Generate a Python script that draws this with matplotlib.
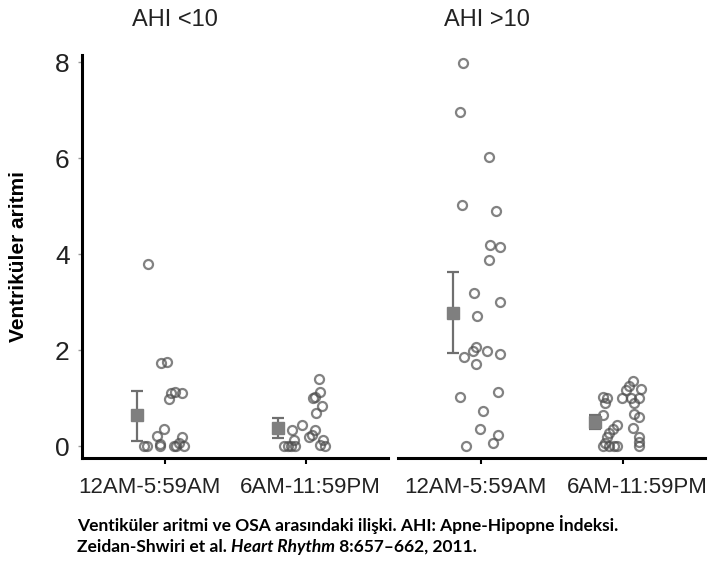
import matplotlib.pyplot as plt
from matplotlib.transforms import blended_transform_factory

# ---- data ----
PANELS = ["AHI <10", "AHI >10"]
GROUPS = ["12AM-5:59AM", "6AM-11:59PM"]

# jitter offsets (category units) and values for each point
l_night_x = [-0.12, -0.03, 0.01, 0.03, 0.04, 0.07, 0.12, -0.01, -0.06, 0.12, 0.10,
             -0.15, -0.13, -0.04, 0.06, 0.08, 0.13, -0.04]
l_night_y = [3.79, 1.73, 1.75, 0.98, 1.10, 1.12, 1.10, 0.35, 0.21, 0.19, 0.06,
             0.0, 0.0, 0.0, 0.0, 0.0, 0.0, 0.04]

l_day_x = [0.09, 0.10, 0.06, 0.05, 0.11, 0.07, -0.03, -0.10, 0.06, 0.04, 0.02, 0.12,
           0.10, 0.13, -0.16, -0.13, -0.11, -0.08, -0.09]
l_day_y = [1.40, 1.12, 1.02, 1.00, 0.83, 0.69, 0.44, 0.33, 0.33, 0.23, 0.19, 0.13,
           0.02, 0.0, 0.0, 0.0, 0.0, 0.0, 0.13]

r_night_x = [-0.13, -0.15, 0.05, -0.14, 0.10, 0.06, 0.13, 0.05, -0.05, 0.13, -0.03,
             -0.04, -0.06, 0.04, 0.13, -0.12, -0.04, -0.15, 0.12, 0.01, -0.01, 0.12,
             0.08, -0.11]
r_night_y = [7.98, 6.96, 6.02, 5.02, 4.90, 4.19, 4.15, 3.88, 3.19, 3.00, 2.71,
             2.06, 1.98, 1.98, 1.92, 1.85, 1.71, 1.02, 1.12, 0.73, 0.35, 0.23,
             0.06, 0.0]

r_day_x = [0.07, 0.04, 0.13, 0.02, -0.14, -0.11, -0.01, 0.06, 0.11, 0.08, -0.13,
           -0.14, 0.08, 0.11, -0.04, -0.07, 0.07, -0.10, -0.11, 0.11, 0.11, -0.13,
           -0.14, -0.10, -0.06, -0.04, 0.11]
r_day_y = [1.35, 1.25, 1.19, 1.17, 1.02, 1.00, 1.00, 1.00, 1.00, 0.90, 0.90,
           0.65, 0.67, 0.60, 0.44, 0.35, 0.38, 0.27, 0.19, 0.19, 0.08, 0.06,
           0.0, 0.0, 0.0, 0.0, 0.0]

# mean with error bar (low, high)
means = [[0.65, 0.375], [2.77, 0.50]]
err_lo = [[0.10, 0.17], [1.94, 0.35]]
err_hi = [[1.15, 0.58], [3.63, 0.65]]

points = [[(l_night_x, l_night_y), (l_day_x, l_day_y)],
          [(r_night_x, r_night_y), (r_day_x, r_day_y)]]

YTICKS = [0, 2, 4, 6, 8]
MEAN_OFFSET = -0.2

W, H = 710, 564
fig = plt.figure(figsize=(W / 100, H / 100), dpi=100)
plt.rcParams["font.family"] = ["Liberation Sans", "DejaVu Sans"]

axes_px = [(82, 388), (398, 705)]
bottom_px, top_px = 458, 55
title_px = [175, 487]
# label centres are a bit off the tick marks in the original
label_shift = [[-0.11, 0.03], [-0.04, 0.10]]

for p in range(2):
    x0, x1 = axes_px[p]
    ax = fig.add_axes([x0 / W, 1 - bottom_px / H, (x1 - x0) / W, (bottom_px - top_px) / H])
    for g in range(2):
        xs, ys = points[p][g]
        ax.plot([g + x for x in xs], ys, linestyle="none", marker="o", markersize=6.5,
                markerfacecolor="none", markeredgecolor=(0.3, 0.3, 0.3, 0.7),
                markeredgewidth=1.6, zorder=3)
        m = means[p][g]
        ax.errorbar([g + MEAN_OFFSET], [m],
                    yerr=[[m - err_lo[p][g]], [err_hi[p][g] - m]],
                    fmt="s", color="#7f7f7f", ecolor="#6f6f6f", markersize=8.5,
                    elinewidth=1.6, capsize=4, capthick=1.6, zorder=4)

    ax.set_xlim(-0.59, 1.58)
    ax.set_ylim(-0.25, 8.15)
    ax.set_xticks([0, 1])
    ax.set_xticklabels([])
    ax.tick_params(axis="x", length=4, width=1.5)
    trans = blended_transform_factory(ax.transData, ax.transAxes)
    for g in range(2):
        ax.text(g + label_shift[p][g], -0.072, GROUPS[g], transform=trans,
                ha="center", va="center", fontsize=16, color="#222222")
    for s in ["top", "right"]:
        ax.spines[s].set_visible(False)
    ax.spines["bottom"].set_linewidth(2.2)
    if p == 0:
        ax.spines["left"].set_linewidth(2.2)
        ax.set_yticks(YTICKS)
        ax.set_yticklabels([str(t) for t in YTICKS], fontsize=19, color="#222222")
        ax.tick_params(axis="y", length=3, width=1, color="#999999", pad=6)
        ax.set_ylabel("Ventriküler aritmi", fontsize=15, fontweight="bold")
        ax.yaxis.set_label_coords(-54 / (x1 - x0), 0.5)
    else:
        ax.spines["left"].set_visible(False)
        ax.set_yticks([])
    fig.text(title_px[p] / W, 1 - 20 / H, PANELS[p], ha="center", va="center",
             fontsize=17, color="#222222")

# caption
cap_font = ["Lato", "DejaVu Sans"]
fig.text(77 / W, 1 - 525 / H,
         "Ventiküler aritmi ve OSA arasındaki ilişki. AHI: Apne-Hipopne İndeksi.",
         ha="left", va="center", fontsize=12.5, fontweight="bold", family=cap_font)
t1 = fig.text(77 / W, 1 - 555 / H, "Zeidan-Shwiri et al. ", ha="left", va="bottom",
              fontsize=12.5, fontweight="bold", family=cap_font)
t2 = plt.annotate("Heart Rhythm", xy=(1, 0), xycoords=t1, ha="left", va="bottom",
                  fontsize=12.5, fontweight="bold", style="italic", family=cap_font,
                  annotation_clip=False)
plt.annotate(" 8:657–662, 2011.", xy=(1, 0), xycoords=t2, ha="left", va="bottom",
             fontsize=12.5, fontweight="bold", family=cap_font, annotation_clip=False)

fig.savefig("out.png", dpi=100)
